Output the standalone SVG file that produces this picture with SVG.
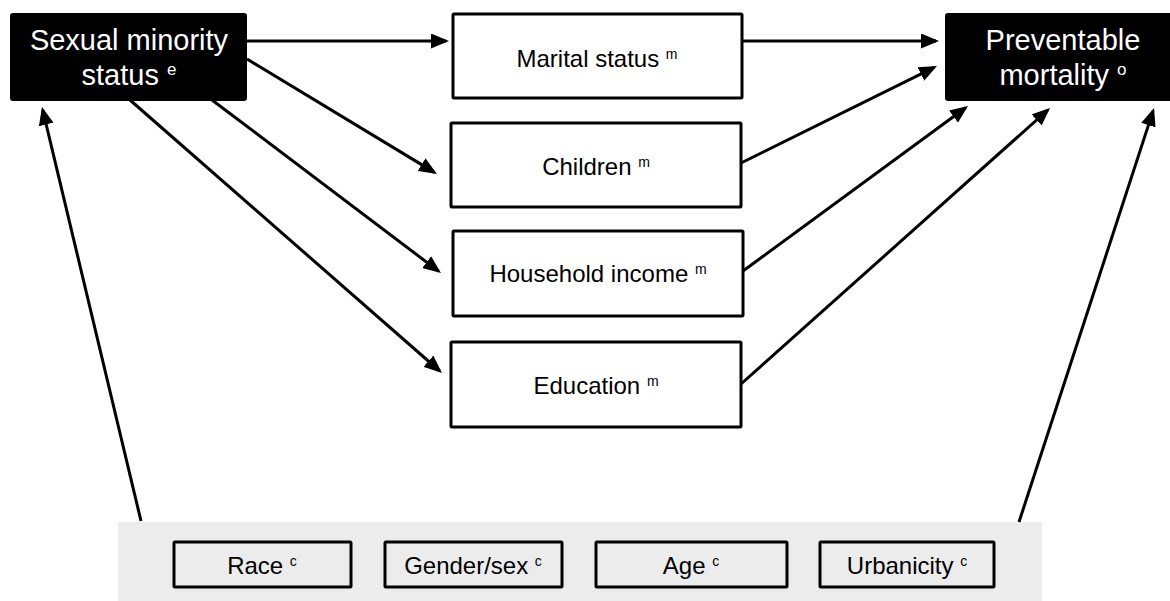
<svg xmlns="http://www.w3.org/2000/svg" width="1170" height="601" viewBox="0 0 1170 601">
<style>
text{font-family:"Liberation Sans",Arial,sans-serif;fill:#000;text-anchor:middle}
.big{font-size:29px;fill:#fff}
.mid{font-size:24px}
.sup{font-size:14px}
.bsup{font-size:17px}
.dark{fill:#000;stroke:#000;stroke-width:2}
.box{fill:#fff;stroke:#000;stroke-width:3}
.sbox{fill:none;stroke:#000;stroke-width:3}
.conn line{stroke:#000;stroke-width:3;marker-end:url(#ah)}
</style>
<defs>
<marker id="ah" markerUnits="userSpaceOnUse" markerWidth="18" markerHeight="15" refX="15" refY="7.5" orient="auto">
<path d="M0,0 L18,7.5 L0,15 z" fill="#000"/>
</marker>
</defs>
<rect width="1170" height="601" fill="#fff"/>
<g id="covariates">
<rect x="118" y="522" width="924" height="80" fill="#ececec"/>
<g id="race"><rect class="sbox" x="174" y="542" width="177" height="45" rx="1"/><text class="mid" x="262" y="574">Race <tspan class="sup" dy="-8">c</tspan></text></g>
<g id="gender"><rect class="sbox" x="385" y="542" width="177" height="45" rx="1"/><text class="mid" x="473" y="574">Gender/sex <tspan class="sup" dy="-8">c</tspan></text></g>
<g id="age"><rect class="sbox" x="596" y="542" width="191" height="45" rx="1"/><text class="mid" x="691" y="574">Age <tspan class="sup" dy="-8">c</tspan></text></g>
<g id="urbanicity"><rect class="sbox" x="820" y="542" width="174" height="45" rx="1"/><text class="mid" x="907" y="574">Urbanicity <tspan class="sup" dy="-8">c</tspan></text></g>
</g>
<g id="exposure"><rect class="dark" x="11" y="14" width="235" height="86" rx="2"/><text class="big" x="129" y="50">Sexual minority</text><text class="big" x="129" y="85">status <tspan class="bsup" dy="-10">e</tspan></text></g>
<g id="outcome"><rect class="dark" x="946" y="14" width="236" height="86" rx="2"/><text class="big" x="1063" y="50">Preventable</text><text class="big" x="1063" y="85">mortality <tspan class="bsup" dy="-10">o</tspan></text></g>
<g id="marital"><rect class="box" x="453" y="14" width="289" height="84" rx="1"/><text class="mid" x="597" y="67">Marital status <tspan class="sup" dy="-8">m</tspan></text></g>
<g id="children"><rect class="box" x="451" y="123" width="290" height="84" rx="1"/><text class="mid" x="596" y="175">Children <tspan class="sup" dy="-8">m</tspan></text></g>
<g id="income"><rect class="box" x="453" y="231" width="290" height="85" rx="1"/><text class="mid" x="598" y="282">Household income <tspan class="sup" dy="-8">m</tspan></text></g>
<g id="education"><rect class="box" x="451" y="342" width="290" height="85" rx="1"/><text class="mid" x="596" y="394">Education <tspan class="sup" dy="-8">m</tspan></text></g>
<g class="conn" id="connectors">
<line x1="247" y1="41" x2="446" y2="41"/>
<line x1="247" y1="59" x2="434.4" y2="172.4"/>
<line x1="212" y1="100" x2="438.6" y2="271.2"/>
<line x1="130" y1="100" x2="439.7" y2="371"/>
<line x1="742" y1="41" x2="936" y2="41"/>
<line x1="741" y1="163" x2="934.3" y2="67.3"/>
<line x1="743" y1="271" x2="965.6" y2="107.8"/>
<line x1="741" y1="384" x2="1047.8" y2="110"/>
<line x1="141" y1="521" x2="42.7" y2="109.9"/>
<line x1="1019" y1="522" x2="1153.1" y2="110.9"/>
</g>
</svg>
